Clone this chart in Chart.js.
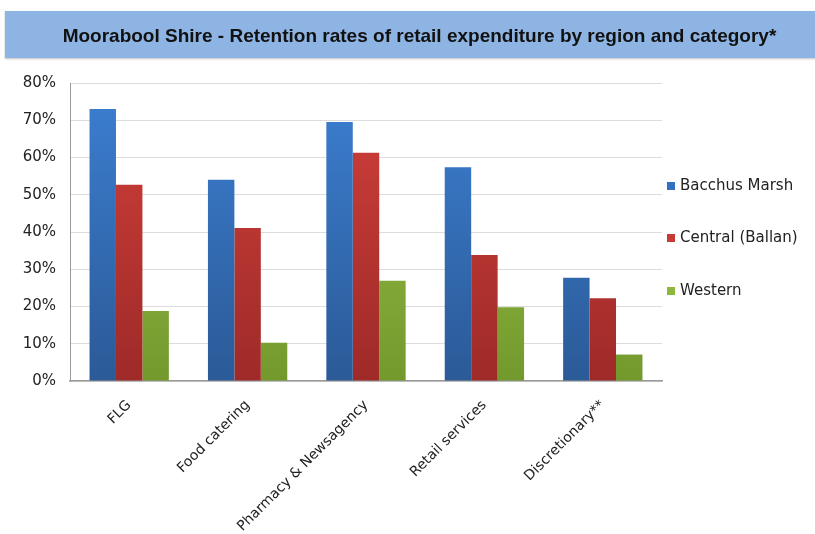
<!DOCTYPE html>
<html>
<head>
<meta charset="utf-8">
<script src="https://cdn.jsdelivr.net/npm/chart.js@4"></script>
<style>
html,body{margin:0;padding:0;background:#fff;overflow:hidden;}
#wrap{position:relative;width:815px;height:534px;}
#banner{position:absolute;left:5px;top:11px;width:810px;height:47px;background:#8DB4E2;box-shadow:0 1px 2px rgba(0,0,0,0.25);
font-family:"Liberation Sans",Arial,sans-serif;font-weight:bold;font-size:19px;color:#111;line-height:49px;text-align:center;box-sizing:border-box;padding-left:19px;white-space:nowrap;}
canvas{position:absolute;left:0;top:0;}
</style>
</head>
<body>
<div id="wrap">
<canvas id="c" width="815" height="534"></canvas>
<div id="banner">Moorabool Shire - Retention rates of retail expenditure by region and category*</div>
</div>
<script>
const categories = ["FLG", "Food catering", "Pharmacy & Newsagency", "Retail services", "Discretionary**"];
const seriesNames = ["Bacchus Marsh", "Central (Ballan)", "Western"];
const bacchusMarsh = [73.0, 54.0, 69.5, 57.4, 27.7];
const centralBallan = [52.7, 41.1, 61.3, 33.8, 22.2];
const western = [18.8, 10.3, 26.9, 19.8, 7.1];
const yTicks = [0, 10, 20, 30, 40, 50, 60, 70, 80];

const palettes = [
  {top:"#3C7FD2", bottom:"#2B5A97", legend:"#3570C0"},
  {top:"#D2403B", bottom:"#9E2A28", legend:"#C93A36"},
  {top:"#9CC649", bottom:"#73992D", legend:"#8DB83E"}
];
function grad(idx){
  return function(ctx){
    const ca = ctx.chart.chartArea;
    if(!ca) return palettes[idx].top;
    const g = ctx.chart.ctx.createLinearGradient(0, ca.top, 0, ca.bottom);
    g.addColorStop(0, palettes[idx].top);
    g.addColorStop(1, palettes[idx].bottom);
    return g;
  };
}
const allValues = [bacchusMarsh, centralBallan, western];
const datasets = seriesNames.map((n,i)=>({
  label:n, data:allValues[i], backgroundColor:grad(i), borderWidth:0,
  categoryPercentage:0.67, barPercentage:1.0
}));

const legendPlugin = {
  id:'customLegend',
  afterDraw(chart){
    const c = chart.ctx;
    const ys = [186, 238, 291];
    c.save();
    c.font = '15px "DejaVu Sans", Verdana, sans-serif';
    c.textBaseline = 'middle';
    seriesNames.forEach((n,i)=>{
      c.fillStyle = palettes[i].legend;
      c.fillRect(667, ys[i]-4, 8, 8);
      c.fillStyle = '#222';
      c.fillText(n, 680, ys[i]);
    });
    c.restore();
  }
};

new Chart(document.getElementById('c'), {
  type:'bar',
  data:{labels:categories, datasets:datasets},
  options:{
    responsive:false, animation:false,
    layout:{padding:{top:83, left:0, right:153, bottom:0}},
    plugins:{legend:{display:false}, title:{display:false}, tooltip:{enabled:false}},
    scales:{
      x:{
        grid:{display:false, drawTicks:false},
        border:{color:'#9a9a9a', width:1.5},
        ticks:{maxRotation:45, minRotation:45, padding:16, color:'#222',
          font:{family:'"DejaVu Sans", Verdana, sans-serif', size:14}},
        afterFit(scale){ scale.height = 153; }
      },
      y:{
        min:0, max:80,
        afterBuildTicks(scale){ scale.ticks = yTicks.map(v=>({value:v})); },
        grid:{color:'#dcdcdc', drawTicks:false},
        border:{color:'#9a9a9a', width:1},
        ticks:{padding:14, color:'#222', callback:v=>v+'%',
          font:{family:'"DejaVu Sans", Verdana, sans-serif', size:15}},
        afterFit(scale){ scale.width = 70; }
      }
    }
  },
  plugins:[legendPlugin]
});
</script>
</body>
</html>
